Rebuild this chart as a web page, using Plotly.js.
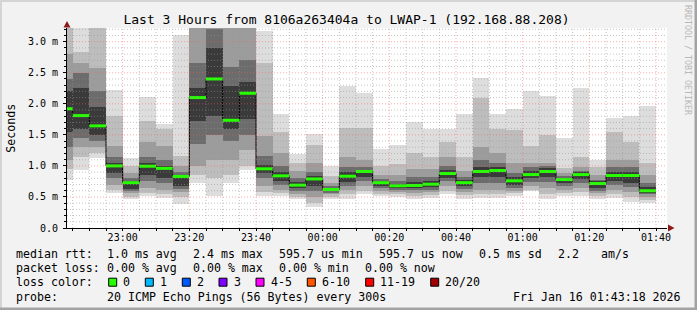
<!DOCTYPE html>
<html>
<head>
<meta charset="utf-8">
<script src="https://cdn.plot.ly/plotly-3.0.1.min.js"></script>
<style>
html,body{margin:0;padding:0;background:#f2f2f2;}
#chart{width:697px;height:310px;}
</style>
</head>
<body>
<div id="chart"></div>
<script>
// ---- data ----
const titleText = "Last 3 Hours from 8106a263404a to LWAP-1 (192.168.88.208)";
const barEnd = ["22:45","22:50","22:55","23:00","23:05","23:10","23:15","23:20","23:25","23:30","23:35","23:40",
  "23:45","23:50","23:55","00:00","00:05","00:10","00:15","00:20","00:25","00:30","00:35","00:40",
  "00:45","00:50","00:55","01:00","01:05","01:10","01:15","01:20","01:25","01:30","01:35","01:40"];
const median = [1.92,1.81,1.645,1.00,0.73,0.995,0.96,0.83,2.10,2.40,1.735,2.17,
  0.953,0.84,0.69,0.79,0.62,0.834,0.91,0.73,0.68,0.685,0.705,0.877,
  0.73,0.91,0.926,0.76,0.86,0.91,0.78,0.86,0.716,0.845,0.845,0.60];
// smoke bands (outer -> inner), values in ms
const smokeLo0 = [0.78,0.94,1.13,0.57,0.46,0.51,0.49,0.38,0.73,0.51,0.73,0.94,0.51,0.51,0.46,0.335,0.46,0.46,0.54,0.51,0.50,0.46,0.48,0.54,0.46,0.48,0.48,0.51,0.59,0.46,0.51,0.51,0.46,0.48,0.415,0.405];
const smokeHi0 = [3.5,3.5,3.5,2.23,1.13,2.11,1.68,3.10,3.5,3.5,3.5,3.5,3.17,1.83,1.19,1.51,1.0,2.28,2.18,1.27,1.33,1.70,1.59,1.60,1.83,2.41,1.84,1.92,2.20,2.13,1.45,2.26,1.10,1.77,1.81,1.97];
const smokeLo1 = [0.95,1.15,1.2,0.62,0.5,0.57,0.55,0.5,0.85,0.8,0.85,1.0,0.58,0.56,0.5,0.4,0.5,0.55,0.6,0.55,0.55,0.52,0.53,0.6,0.53,0.55,0.55,0.56,0.62,0.55,0.56,0.58,0.52,0.55,0.5,0.45];
const smokeHi1 = [3.3,2.84,3.5,1.80,1.0,1.72,1.6,1.16,3.5,3.5,3.5,3.5,2.66,1.55,1.05,1.33,0.84,1.61,1.61,1.0,1.03,1.2,1.15,1.38,1.15,2.1,1.6,1.58,1.32,1.5,0.96,1.15,0.98,1.55,1.38,1.05];
const smokeLo2 = [1.1,1.3,1.3,0.7,0.56,0.65,0.62,0.58,1.0,1.1,1.1,1.26,0.68,0.62,0.55,0.5,0.54,0.62,0.68,0.6,0.58,0.57,0.58,0.68,0.58,0.62,0.62,0.6,0.68,0.64,0.62,0.65,0.56,0.62,0.58,0.5];
const smokeHi2 = [2.8,2.66,2.58,1.32,0.88,1.38,1.32,1.0,3.5,3.5,3.5,3.5,1.48,1.2,0.92,1.05,0.72,1.15,1.1,0.85,0.85,0.95,0.95,1.15,0.92,1.3,1.2,1.05,1.05,1.05,0.88,0.98,0.86,1.1,1.1,0.85];
const smokeLo3 = [1.3,1.45,1.4,0.8,0.6,0.75,0.72,0.63,1.35,1.5,1.4,1.5,0.8,0.7,0.6,0.6,0.57,0.68,0.76,0.64,0.62,0.61,0.62,0.75,0.63,0.72,0.72,0.65,0.74,0.74,0.68,0.72,0.6,0.7,0.66,0.54];
const smokeHi3 = [2.4,2.5,2.2,1.15,0.8,1.15,1.10,0.9,2.66,3.2,2.6,2.71,1.16,1.0,0.8,0.9,0.68,0.98,0.98,0.79,0.76,0.82,0.82,1.0,0.82,1.1,1.05,0.88,0.98,1.0,0.84,0.92,0.78,0.98,0.98,0.72];
const smokeLo4 = [1.55,1.6,1.5,0.88,0.63,0.85,0.8,0.68,1.72,1.8,1.6,1.75,0.88,0.76,0.64,0.68,0.59,0.74,0.82,0.67,0.65,0.64,0.66,0.8,0.67,0.82,0.82,0.7,0.8,0.82,0.73,0.79,0.64,0.76,0.72,0.57];
const smokeHi4 = [2.2,2.25,1.95,1.05,0.76,1.05,1.0,0.86,2.25,2.9,2.28,2.35,1.02,0.9,0.74,0.84,0.65,0.9,0.94,0.76,0.71,0.74,0.75,0.93,0.77,0.98,0.98,0.82,0.92,0.96,0.81,0.9,0.75,0.9,0.9,0.66];
const yTickVals = [0,0.5,1.0,1.5,2.0,2.5,3.0];
const yTickText = ["0.0","0.5 m","1.0 m","1.5 m","2.0 m","2.5 m","3.0 m"];
const lossLabels = ["0","1","2","3","4-5","6-10","11-19","20/20"];
const lossColors = ["#26ff00","#00b8ff","#0059ff","#7e00ff","#ff00ff","#ff5500","#ff0000","#a10000"];
const rttLegend = ["1.0 ms avg","2.4 ms max","595.7 us min","595.7 us now","0.5 ms sd","2.2","am/s"];
const lossLegend = ["0.00 % avg","0.00 % max","0.00 % min","0.00 % now"];
const probeText = "20 ICMP Echo Pings (56 Bytes) every 300s";
const stampText = "Fri Jan 16 01:43:18 2026";

// ---- geometry helpers ----
const W = 697, H = 310, L = 67, R = 30, T = 28, B = 82;
const PW = W - L - R, PH = H - T - B;
const X = px => (px - L) / PW;
const Y = py => (H - B - py) / PH;
const STEP = 300000;
function toMs(hm){
  const [h,m] = hm.split(":").map(Number);
  const day = h >= 12 ? 15 : 16;
  return Date.UTC(2026,0,day,h,m,0);
}
const endMs = barEnd.map(toMs);
const centerMs = endMs.map(t => t - STEP/2);
const rangeEnd = Date.UTC(2026,0,16,1,43,18);
const rangeStart = rangeEnd - 3*3600*1000;

const bandLo = [smokeLo0,smokeLo1,smokeLo2,smokeLo3,smokeLo4];
const bandHi = [smokeHi0,smokeHi1,smokeHi2,smokeHi3,smokeHi4];
const bandColors = ["#dddddd","#bdbdbd","#9c9c9c","#6c6c6c","#3a3a3a"];

const traces = [];
bandLo.forEach((lo,k) => {
  traces.push({
    type:"bar", x:centerMs, base:lo, y:lo.map((v,i)=>bandHi[k][i]-v),
    width:endMs.map(()=>STEP), marker:{color:bandColors[k], line:{width:0}},
    hoverinfo:"skip", showlegend:false
  });
});
// black step connector
const stepX = endMs.map(t=>t-STEP).concat([endMs[endMs.length-1]]);
const stepY = median.concat([median[median.length-1]]);
traces.push({type:"scatter", mode:"lines", x:stepX, y:stepY, line:{shape:"hv", color:"#000", width:1}, hoverinfo:"skip", showlegend:false});
// green median segments
const gx = [], gy = [];
endMs.forEach((t,i)=>{ gx.push(t-STEP, t, null); gy.push(median[i], median[i], null); });
traces.push({type:"scatter", mode:"lines", x:gx, y:gy, line:{color:lossColors[0], width:3}, hoverinfo:"skip", showlegend:false});

// ---- grid (drawn above smoke, as rrdtool does) ----
const shapes = [];
const gridMinor = "rgba(150,150,150,0.55)", gridMajor = "rgba(255,90,90,0.5)";
for (let k = 1; k <= 32; k++) {
  const v = k/10;
  const major = (k % 5 === 0);
  shapes.push({type:"line", xref:"paper", yref:"y", x0:0, x1:1, y0:v, y1:v, layer:"above",
    line:{color: major?gridMajor:gridMinor, width:1, dash:"1px,2px"}});
}
const firstTick = Date.UTC(2026,0,15,22,45,0);
for (let t = firstTick; t < rangeEnd; t += STEP) {
  const major = ((t - Date.UTC(2026,0,15,23,0,0)) % 1200000 === 0);
  shapes.push({type:"line", xref:"x", yref:"paper", x0:t, x1:t, y0:0, y1:1, layer:"above",
    line:{color: major?gridMajor:gridMinor, width:1, dash:"1px,2px"}});
}
// arrows
const arrowColor = "#8e1b1b";
shapes.push({type:"path", xref:"paper", yref:"paper", layer:"above", fillcolor:arrowColor, line:{width:0},
  path:`M ${X(67)},${Y(21)} L ${X(63.5)},${Y(27.5)} L ${X(70.5)},${Y(27.5)} Z`});
shapes.push({type:"path", xref:"paper", yref:"paper", layer:"above", fillcolor:arrowColor, line:{width:0},
  path:`M ${X(674.5)},${Y(228)} L ${X(668)},${Y(224.5)} L ${X(668)},${Y(231.5)} Z`});
// frame
shapes.push({type:"rect", xref:"paper", yref:"paper", layer:"below", x0:X(0), x1:X(697), y0:Y(0), y1:Y(2), fillcolor:"#d4d4d4", line:{width:0}});
shapes.push({type:"rect", xref:"paper", yref:"paper", layer:"below", x0:X(0), x1:X(2), y0:Y(0), y1:Y(310), fillcolor:"#d4d4d4", line:{width:0}});
shapes.push({type:"rect", xref:"paper", yref:"paper", layer:"below", x0:X(694.5), x1:X(697), y0:Y(0), y1:Y(310), fillcolor:"#a3a3a3", line:{width:0}});
shapes.push({type:"rect", xref:"paper", yref:"paper", layer:"below", x0:X(0), x1:X(697), y0:Y(307.5), y1:Y(310), fillcolor:"#a3a3a3", line:{width:0}});

// ---- legend text ----
const mono = "DejaVu Sans Mono";
const ann = [];
function txt(px, py, s, extra){
  ann.push(Object.assign({xref:"paper", yref:"paper", x:X(px), y:Y(py), text:s, showarrow:false,
    xanchor:"left", yanchor:"middle", borderpad:0, borderwidth:0,
    font:{family:mono, size:11.6, color:"#000"}}, extra||{}));
}
const rttX = [107.3,193.3,279.3,379.3,479.3,558.3,600.7];
const lossX = [107.3,193.3,279.3,365.3];
txt(16, 254.3, "median rtt:");
rttLegend.forEach((s,i)=>txt(rttX[i], 254.3, s));
txt(16, 268.3, "packet loss:");
lossLegend.forEach((s,i)=>txt(lossX[i], 268.3, s));
txt(16, 282.3, "loss color:");
const boxX = [108.7,145.3,182.3,219,256,307.3,365.7,430.7];
lossLabels.forEach((s,i)=>{
  shapes.push({type:"rect", xref:"paper", yref:"paper", layer:"above",
    x0:X(boxX[i]), x1:X(boxX[i]+8), y0:Y(278.2), y1:Y(286.2), fillcolor:lossColors[i], line:{color:"#000", width:1}});
  txt(boxX[i]+14.5, 282.3, s);
});
txt(16, 296.7, "probe:");
txt(107.3, 296.7, probeText);
txt(513.3, 296.7, stampText);
// y axis title
ann.push({xref:"paper", yref:"paper", x:X(10.7), y:Y(128), text:"Seconds", textangle:-90, showarrow:false,
  xanchor:"center", yanchor:"middle", borderpad:0, font:{family:mono, size:11.6, color:"#000"}});
// watermark
ann.push({xref:"paper", yref:"paper", x:X(688), y:Y(60), text:"RRDTOOL / TOBI OETIKER", textangle:90, showarrow:false,
  xanchor:"center", yanchor:"middle", borderpad:0, font:{family:mono, size:8.3, color:"#b8b8b8"}});

const layout = {
  width:W, height:H, autosize:false,
  margin:{l:L, r:R, t:T, b:B, pad:0},
  paper_bgcolor:"#f2f2f2", plot_bgcolor:"#ffffff",
  barmode:"overlay", bargap:0,
  title:{text:titleText, xref:"container", yref:"container", x:346.5/W, y:1-19/H, xanchor:"center", yanchor:"middle",
    font:{family:mono, size:13, color:"#000"}},
  xaxis:{type:"date", range:[rangeStart, rangeEnd], tickformat:"%H:%M", dtick:1200000,
    tick0:Date.UTC(2026,0,15,23,0,0), showgrid:false, zeroline:false,
    showline:true, linecolor:"#000", linewidth:1, ticks:"outside", ticklen:2, tickcolor:"#000", ticklabelstandoff:-2,
    minor:{dtick:STEP, tick0:Date.UTC(2026,0,15,22,45,0), ticks:"outside", ticklen:2, tickcolor:"#000", showgrid:false},
    tickfont:{family:mono, size:10, color:"#000"}, fixedrange:true},
  yaxis:{range:[0, PH/62.1], tickmode:"array", tickvals:yTickVals, ticktext:yTickText,
    showgrid:false, zeroline:false, showline:true, linecolor:"#000", linewidth:1,
    ticks:"outside", ticklen:3, tickcolor:"#000", ticklabelstandoff:3,
    minor:{dtick:0.1, tick0:0, ticks:"outside", ticklen:2, tickcolor:"#000", showgrid:false},
    tickfont:{family:mono, size:10, color:"#000"}, fixedrange:true},
  shapes:shapes, annotations:ann, showlegend:false
};
Plotly.newPlot("chart", traces, layout, {staticPlot:true, displayModeBar:false});
</script>
</body>
</html>
